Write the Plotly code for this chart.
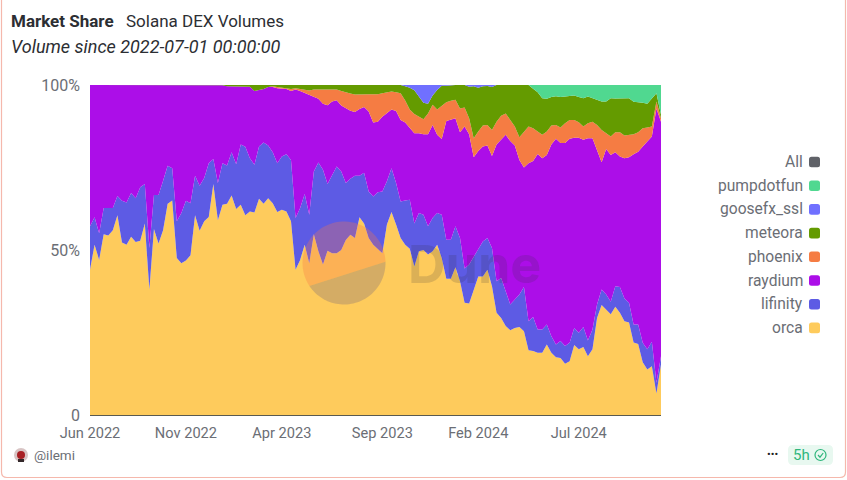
import numpy as np
import pandas as pd
import plotly.graph_objects as go

W, H = 847, 480
# plot area in window pixels
LEFT, RIGHT, TOP, BOTTOM = 90, 661, 85, 415

# weekly buckets, values are the top edge of each band in percent
dates = pd.date_range("2022-06-27", periods=126, freq="7D")

orca_top = [
    44, 51.6, 47, 54.8, 54.4, 56, 60.5, 52.3, 51.6, 54, 52.4, 52.8, 58, 38, 56.4, 52, 56, 64, 65, 47.6,
    46, 46.8, 48.4, 60.5, 55.8, 58.7, 60, 70, 59, 63.7, 64, 66.5, 62.4, 63.7, 60.5, 61.7, 61.4, 65.5, 64, 65.7,
    64.2, 61.5, 62.2, 61.7, 58.7, 44, 47, 51.6, 46, 54.8, 49.6, 45.6, 49.8, 49, 49, 50, 53, 54.6, 53.6, 59.9,
    58, 53.6, 51.6, 50.4, 49, 57.7, 61.5, 57.7, 53.6, 51.6, 50.4, 45, 49.6, 50, 48.6, 49.6, 51.6, 47.6, 41.3, 41.3,
    44.8, 40.5, 34, 33.8, 38, 42, 42, 44, 39, 31, 29.4, 27, 25.7, 26.4, 26.7, 25.4, 19.6, 19.4, 18.9, 18.9,
    21.4, 18.9, 17.5, 17.3, 15.5, 16.3, 21.2, 19.9, 20.6, 17.8, 19.9, 29.4, 33.3, 32, 30.5, 32.8, 31, 28.4, 28, 22,
    21.5, 16, 13.8, 14.8, 6.5, 15.3,
]
lifinity_top = [
    57.2, 59.9, 55.1, 62.7, 62.7, 62.7, 66.4, 64.9, 64.4, 67.3, 65.7, 69, 70, 50.6, 66.7, 66.7, 71, 75.5, 74.8, 58.7,
    61.2, 64.9, 64.2, 72.5, 69.5, 71.8, 76.3, 77.6, 70.3, 76.3, 75.6, 79.6, 76, 82, 81.3, 77.8, 75.8, 81.4, 82.6, 81.7,
    79.6, 76.3, 78.3, 79, 77.3, 59.7, 62.7, 67, 60.7, 73.8, 76.5, 74.3, 70, 72.6, 75.3, 73.8, 70.3, 71.6, 72.5, 72.5,
    73.4, 67.7, 66.2, 67.5, 67.7, 70.8, 74.8, 70.3, 64.7, 65, 65.2, 58, 61.2, 60.7, 57.2, 59.7, 61.2, 60.7, 53.1, 53.1,
    57.2, 53.6, 44.4, 45.6, 48, 50.6, 52.6, 53.6, 50.6, 40.5, 41.5, 37.5, 33.5, 35, 36.5, 38.8, 28.4, 29.7, 25.9, 25.9,
    27.4, 23.9, 21.4, 22.4, 20.9, 21.9, 26.4, 24.9, 26.7, 22.6, 25.9, 33.5, 38, 36.5, 34.3, 39, 38.8, 35.3, 34, 27.4,
    27.4, 21.9, 19.9, 22.2, 9.8, 17.8,
]
raydium_top = [
    100, 100, 100, 100, 100, 100, 100, 100, 100, 100, 100, 100, 100, 100, 100, 100, 100, 100, 100, 100,
    100, 100, 100, 100, 100, 99.9, 99.9, 99.9, 99.9, 99.9, 99.6, 99.6, 99.6, 99.6, 99.6, 99.5, 98.2, 98.4, 98.8, 99.4,
    99.4, 99, 98.8, 98.8, 98.2, 98.6, 98.2, 97.6, 97, 96.4, 95.8, 94.3, 93.9, 95, 95.4, 93.8, 93, 92.2, 91.8, 92.7,
    93.3, 92, 88.6, 88.9, 90.4, 91.4, 92.6, 92.1, 89.4, 88.6, 86.9, 85.4, 85.4, 85.1, 85.1, 87.9, 84.9, 83.6, 89.1, 89.4,
    89.9, 85.7, 87.4, 85.1, 78.1, 80, 81.4, 81.7, 78.5, 82, 83.4, 84.9, 83, 81.7, 77.3, 75, 76.3, 77, 79.1, 77.8,
    78.8, 82, 83.7, 82.4, 82.4, 83.7, 84, 84, 83.4, 83.9, 83.9, 80.3, 76.6, 80.6, 78.8, 79.6, 78.3, 77.8, 78.1, 79,
    79.8, 81.4, 82.9, 84.4, 92.9, 88.9,
]
phoenix_top = [
    100, 100, 100, 100, 100, 100, 100, 100, 100, 100, 100, 100, 100, 100, 100, 100, 100, 100, 100, 100,
    100, 100, 100, 100, 100, 99.9, 99.9, 99.9, 99.9, 99.9, 99.6, 99.6, 99.6, 99.6, 99.6, 99.5, 98.2, 98.4, 98.8, 99.4,
    99.6, 99.4, 99.2, 99, 98.8, 99, 98.8, 98.5, 98.3, 98.6, 98.6, 98.5, 98.5, 98.5, 98.6, 98.2, 97.7, 97.4, 97.1, 97.2,
    97.3, 97.2, 97.2, 97.2, 97.5, 97.7, 98, 97.8, 97.5, 95.3, 92.6, 91.2, 90.4, 89.6, 91.4, 94, 92.6, 93.8, 94.8, 95.2,
    95.5, 92.9, 93.2, 89.9, 83.9, 85.9, 87.7, 87.9, 86.4, 88.9, 90.7, 91.4, 89.4, 87.4, 84.2, 85.9, 87.4, 86.9, 85.9, 84.9,
    85.9, 87.7, 87.9, 87.1, 88.4, 89.4, 89.4, 88.7, 87.4, 88.4, 88.9, 87.9, 86.4, 85.4, 84.4, 85.7, 85.7, 84.7, 84.9, 85.1,
    85.7, 86.9, 87.1, 87.4, 95, 89.9,
]
meteora_top = [
    100, 100, 100, 100, 100, 100, 100, 100, 100, 100, 100, 100, 100, 100, 100, 100, 100, 100, 100, 100,
    100, 100, 100, 100, 100, 100, 100, 100, 100, 100, 100, 100, 100, 100, 100, 100, 100, 100, 100, 100,
    100, 100, 100, 100, 100, 100, 100, 100, 100, 100, 100, 100, 100, 100, 100, 100, 100, 100, 100, 100,
    100, 100, 100, 100, 100, 100, 100, 100, 100, 99.6, 99.2, 98.4, 96.5, 94.6, 94.3, 96.8, 98.5, 99.8, 99.8, 100,
    100, 100, 100, 99.5, 99.6, 99.2, 99.6, 99.7, 99.4, 100, 100, 100, 100, 100, 100, 100, 100, 98.9, 97.8, 96,
    95.8, 96.4, 96.6, 96.4, 96.5, 96.7, 96.8, 96.4, 96, 96.5, 96, 95.6, 95, 95, 96, 95.9, 95.9, 95.9, 96, 94.9,
    94.8, 94.6, 94.3, 96, 97.5, 91,
]
# what is left above meteora belongs to goosefx_ssl first, pumpdotfun from this week on
pump_start = 97

orca = np.array(orca_top)
lifinity = np.array(lifinity_top) - orca
raydium = np.array(raydium_top) - np.array(lifinity_top)
phoenix = np.array(phoenix_top) - np.array(raydium_top)
meteora = np.array(meteora_top) - np.array(phoenix_top)
rest = 100 - np.array(meteora_top)
goosefx_ssl = np.where(np.arange(len(rest)) < pump_start, rest, 0)
pumpdotfun = np.where(np.arange(len(rest)) >= pump_start, rest, 0)

series = [
    ("orca", orca, "#FECB5C"),
    ("lifinity", lifinity, "#5D5BE4"),
    ("raydium", raydium, "#AC0EE8"),
    ("phoenix", phoenix, "#F57C43"),
    ("meteora", meteora, "#649B00"),
    ("goosefx_ssl", goosefx_ssl, "#7070FF"),
    ("pumpdotfun", pumpdotfun, "#50D890"),
]
legend_names = ["All", "pumpdotfun", "goosefx_ssl", "meteora", "phoenix", "raydium", "lifinity", "orca"]
legend_colors = ["#606268", "#50D890", "#7070FF", "#649B00", "#F57C43", "#AC0EE8", "#5D5BE4", "#FECB5C"]

x_tick_dates = ["2022-06-27", "2022-11-21", "2023-04-17", "2023-09-18", "2024-02-12", "2024-07-15"]
y_tick_vals = [0, 50, 100]
y_tick_text = ["0", "50%", "100%"]

FONT = "Roboto"
GREY = "#6b6e75"


# paper coordinates follow the plot area, so convert from window pixels
def px(x):
    return (x - LEFT) / (RIGHT - LEFT)


def py(y):
    return (BOTTOM - y) / (BOTTOM - TOP)


def rounded(x0, y0, x1, y1, r):
    return (
        f"M {px(x0 + r)} {py(y0)} L {px(x1 - r)} {py(y0)} Q {px(x1)} {py(y0)} {px(x1)} {py(y0 + r)} "
        f"L {px(x1)} {py(y1 - r)} Q {px(x1)} {py(y1)} {px(x1 - r)} {py(y1)} "
        f"L {px(x0 + r)} {py(y1)} Q {px(x0)} {py(y1)} {px(x0)} {py(y1 - r)} "
        f"L {px(x0)} {py(y0 + r)} Q {px(x0)} {py(y0)} {px(x0 + r)} {py(y0)} Z"
    )


def arc_path(cx, cy, r, a0, a1):
    angles = np.radians(np.linspace(a0, a1, 50))
    pts = [f"{px(cx + r * np.cos(a))} {py(cy + r * np.sin(a))}" for a in angles]
    return "M " + " L ".join(pts) + " Z"


def note(text, x, y, size=14, color=GREY, anchor="left", **kw):
    # annotations carry a couple of pixels of padding
    shift = {"left": -2, "right": 2, "center": 0}[anchor]
    return dict(text=text, x=px(x), y=py(y), xref="paper", yref="paper", showarrow=False,
                xanchor=anchor, yanchor="middle", xshift=shift,
                font=dict(family=kw.pop("family", FONT), size=size, color=color), **kw)


fig = go.Figure()
for name, values, color in series:
    fig.add_trace(go.Scatter(x=dates, y=values, name=name, mode="lines", stackgroup="one",
                             line=dict(width=0, color=color), fillcolor=color, showlegend=False))

annotations = [
    note("<b>Market Share</b>", 11, 21, size=17, color="#2c2e33"),
    note("Solana DEX Volumes", 126, 21, size=17, color="#2c2e33"),
    note("<i>Volume since 2022-07-01 00:00:00</i>", 11, 46, size=18, color="#2c2e33"),
    note("@ilemi", 34, 455, size=13.5),
    note("•••", 773, 454, size=11, color="#222222", anchor="center"),
    note("5h", 801, 455, size=15, color="#2fb67c", anchor="center"),
    note("<b>Dune</b>", 474, 264, size=52, color="rgba(50,50,60,0.17)", anchor="center", family="Inter"),
]
shapes = [
    dict(type="path", path=f"M {px(1.5)} {py(0)} L {px(1.5)} {py(472)} Q {px(1.5)} {py(477.5)} {px(7)} {py(477.5)} "
                           f"L {px(840)} {py(477.5)} Q {px(845.5)} {py(477.5)} {px(845.5)} {py(472)} L {px(845.5)} {py(0)}",
         xref="paper", yref="paper", line=dict(color="#f5b8ac", width=1.2)),
    # Dune logo watermark
    dict(type="path", path=arc_path(344, 263, 41.5, 146.5, 358.2), xref="paper", yref="paper",
         fillcolor="rgba(250,120,70,0.3)", line=dict(width=0)),
    dict(type="path", path=arc_path(344, 263, 41.5, -1.8, 146.5), xref="paper", yref="paper",
         fillcolor="rgba(45,50,140,0.2)", line=dict(width=0)),
    # avatar
    dict(type="circle", xref="paper", yref="paper", x0=px(14), x1=px(28), y0=py(462), y1=py(448),
         fillcolor="#d8c4c4", line=dict(width=0)),
    dict(type="circle", xref="paper", yref="paper", x0=px(17), x1=px(25), y0=py(459), y1=py(451),
         fillcolor="#a81f24", line=dict(width=0)),
    dict(type="rect", xref="paper", yref="paper", x0=px(18), x1=px(24), y0=py(462), y1=py(459),
         fillcolor="#33282a", line=dict(width=0)),
    # freshness badge
    dict(type="path", path=rounded(788, 445, 833, 465, 5), xref="paper", yref="paper",
         fillcolor="#e8f8f0", line=dict(width=0)),
    dict(type="circle", xref="paper", yref="paper", x0=px(815), x1=px(826), y0=py(460.5), y1=py(449.5),
         line=dict(color="#2fb67c", width=1.2)),
    dict(type="path", path=f"M {px(818)} {py(455)} L {px(820)} {py(457.2)} L {px(823.2)} {py(453)}",
         xref="paper", yref="paper", line=dict(color="#2fb67c", width=1.2)),
]
for i, (name, color) in enumerate(zip(legend_names, legend_colors)):
    y = 162 + i * 23.7
    annotations.append(note(name, 803, y, size=15.6, anchor="right"))
    shapes.append(dict(type="path", path=rounded(809, y - 5.3, 820, y + 5.3, 2.5), xref="paper", yref="paper",
                       fillcolor=color, line=dict(width=0)))

fig.update_layout(
    width=W, height=H,
    margin=dict(l=LEFT, r=W - RIGHT, t=TOP, b=H - BOTTOM),
    paper_bgcolor="white", plot_bgcolor="white",
    font=dict(family=FONT, size=15, color=GREY),
    annotations=annotations, shapes=shapes,
    xaxis=dict(type="date", range=[dates[0], dates[-1]], tickvals=x_tick_dates, tickformat="%b %Y",
               showgrid=False, ticks="", showline=True, linecolor="#5a5a50", linewidth=1,
               ticklabelstandoff=4, tickfont=dict(size=14.6, color=GREY)),
    yaxis=dict(range=[0, 100], tickvals=y_tick_vals, ticktext=y_tick_text, showgrid=True, gridcolor="#eeeeee",
               zeroline=False, ticks="", ticklabelstandoff=9, tickfont=dict(size=16, color=GREY)),
)

fig.write_html("out.html", config={"displayModeBar": False},
               post_script="document.body.style.margin='0';")
